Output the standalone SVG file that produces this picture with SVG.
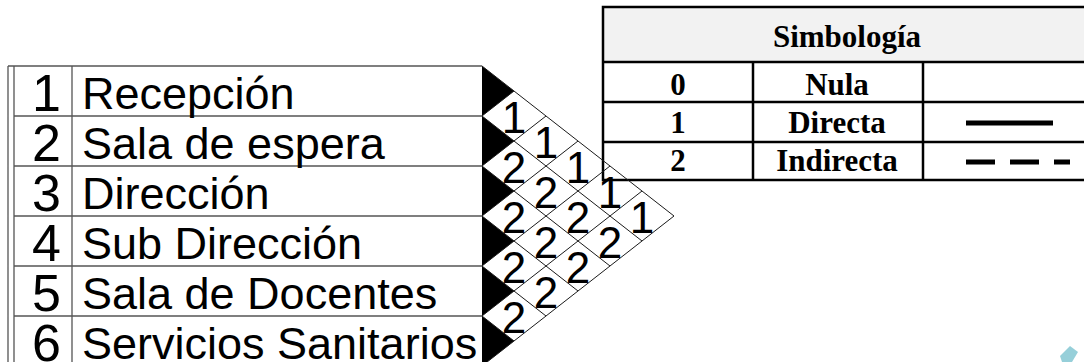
<svg xmlns="http://www.w3.org/2000/svg" width="1084" height="362" viewBox="0 0 1084 362">
<defs>
<style>
.num{font-family:"Liberation Sans",Arial,sans-serif;font-size:52px;fill:#000}
.name{font-family:"Liberation Sans",Arial,sans-serif;font-size:45px;fill:#000}
.cell{font-family:"Liberation Sans",Arial,sans-serif;font-size:44px;fill:#000;text-anchor:middle}
.leg{font-family:"Liberation Serif","Times New Roman",serif;font-weight:bold;font-size:31px;fill:#000;text-anchor:middle}
.tline{stroke:#555;stroke-width:1.3;fill:none}
.grid{stroke:#1a1a1a;stroke-width:1;fill:none}
.lb{stroke:#000;stroke-width:2.5;fill:none}
.tri{fill:#000}
</style>
</defs>
<rect width="1084" height="362" fill="#fff"/>
<path d="M1060 356 L1070 346 L1078 352 L1072 362 L1062 362 Z" fill="#7cc3cf" opacity="0.8"/>

<g id="legend">
<rect x="603" y="7" width="490" height="55" fill="#f2f2f2"/>
<rect x="603" y="62" width="490" height="118" fill="#fff"/>
<path class="lb" d="M1093 7 H603 V180 H1093 M603 62 H1093 M603 102 H1093 M603 142 H1093 M753 62 V180 M923 62 V180"/>
<text class="leg" x="847" y="47">Simbología</text>
<text class="leg" x="678" y="95">0</text>
<text class="leg" x="837" y="95">Nula</text>
<text class="leg" x="678" y="133">1</text>
<text class="leg" x="837" y="133">Directa</text>
<text class="leg" x="678" y="171">2</text>
<text class="leg" x="837" y="171">Indirecta</text>
<line x1="966" y1="123" x2="1053" y2="123" stroke="#000" stroke-width="5"/>
<line x1="966" y1="162" x2="1070" y2="162" stroke="#000" stroke-width="5" stroke-dasharray="29 15"/>
</g>

<g id="table-frame">
<path class="tline" d="M8 66 H482 M8 66 V362 M14 66 V362 M72 66 V362 M14 116 H482 M14 166 H482 M14 216 H482 M14 266 H482 M14 316 H482"/>
</g>

<g id="row-1">
<text class="num" x="32" y="111">1</text>
<text class="name" x="82" y="109">Recepción</text>
<polygon class="tri" points="482,66 514,91 482,116"/>
</g>
<g id="row-2">
<text class="num" x="32" y="161">2</text>
<text class="name" x="82" y="159">Sala de espera</text>
<polygon class="tri" points="482,116 514,141 482,166"/>
</g>
<g id="row-3">
<text class="num" x="32" y="211">3</text>
<text class="name" x="82" y="209">Dirección</text>
<polygon class="tri" points="482,166 514,191 482,216"/>
</g>
<g id="row-4">
<text class="num" x="32" y="261">4</text>
<text class="name" x="82" y="259">Sub Dirección</text>
<polygon class="tri" points="482,216 514,241 482,266"/>
</g>
<g id="row-5">
<text class="num" x="32" y="311">5</text>
<text class="name" x="82" y="309">Sala de Docentes</text>
<polygon class="tri" points="482,266 514,291 482,316"/>
</g>
<g id="row-6">
<text class="num" x="32" y="361">6</text>
<text class="name" x="82" y="359">Servicios Sanitarios</text>
<polygon class="tri" points="482,316 514,341 482,366"/>
</g>

<g id="connectors">
<path class="grid" d="M482 66 L674 216 M482 116 L642 241 M482 166 L610 266 M482 216 L578 291 M482 266 L546 316 M482 316 L514 341
M482 116 L514 91 M482 166 L546 116 M482 216 L578 141 M482 266 L610 166 M482 316 L642 191 M482 366 L674 216"/>
</g>

<g id="cells">
<text class="cell" x="514" y="133">1</text>
<text class="cell" x="514" y="183">2</text>
<text class="cell" x="514" y="233">2</text>
<text class="cell" x="514" y="283">2</text>
<text class="cell" x="514" y="333">2</text>
<text class="cell" x="546" y="158">1</text>
<text class="cell" x="546" y="208">2</text>
<text class="cell" x="546" y="258">2</text>
<text class="cell" x="546" y="308">2</text>
<text class="cell" x="578" y="183">1</text>
<text class="cell" x="578" y="233">2</text>
<text class="cell" x="578" y="283">2</text>
<text class="cell" x="610" y="208">1</text>
<text class="cell" x="610" y="258">2</text>
<text class="cell" x="642" y="233">1</text>
</g>
</svg>
